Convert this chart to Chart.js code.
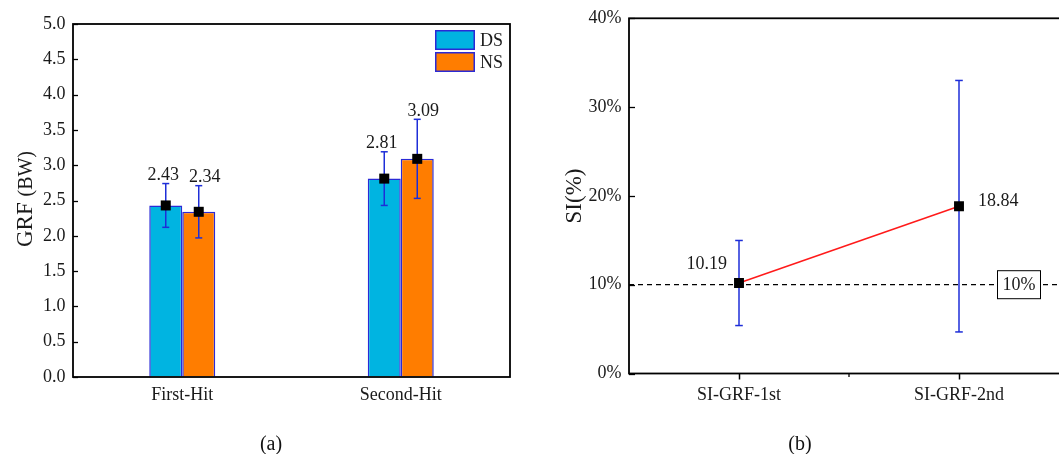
<!DOCTYPE html>
<html>
<head>
<meta charset="utf-8">
<script src="https://cdn.jsdelivr.net/npm/chart.js@4/dist/chart.umd.min.js"></script>
<style>
  html, body { margin: 0; padding: 0; background: #fff; overflow: hidden; }
  #wrap { position: relative; width: 1059px; height: 454px; overflow: hidden; }
  #left { position: absolute; left: 0; top: 0; }
  #right { position: absolute; left: 530px; top: 0; }
  .cap { position: absolute; top: 443px; transform: translate(-50%, -50%);
         font-family: 'Liberation Serif', 'Times New Roman', serif; font-size: 20px; color: #111; }
</style>
</head>
<body>
<div id="wrap">
  <canvas id="left" width="530" height="454"></canvas>
  <canvas id="right" width="550" height="454"></canvas>
  <div class="cap" style="left:271px">(a)</div>
  <div class="cap" style="left:800px">(b)</div>
</div>
<script>
// ---- GRF by hit (mean ± SD, body weights) ----
const hitCategories = ['First-Hit', 'Second-Hit'];
const dsMean = [2.43, 2.81];
const dsErr  = [0.31, 0.38];
const nsMean = [2.34, 3.09];
const nsErr  = [0.37, 0.56];

// ---- symmetry index (%) ----
const siCategories = ['SI-GRF-1st', 'SI-GRF-2nd'];
const siMean = [10.19, 18.84];
const siErr  = [4.79, 14.16];
const siThreshold = 10;

const SERIF = "'Liberation Serif', 'Times New Roman', serif";
const ERR_BLUE = '#1e2ed8';
const TEXT = '#1a1a1a';
const FRAME_W = 1.8;

function line(ctx, x1, y1, x2, y2) {
  ctx.beginPath(); ctx.moveTo(x1, y1); ctx.lineTo(x2, y2); ctx.stroke();
}

function errorBar(ctx, x, yTop, yBot, cap) {
  ctx.save();
  ctx.strokeStyle = ERR_BLUE; ctx.lineWidth = 1.5;
  line(ctx, x, yTop, x, yBot);
  line(ctx, x - cap, yTop, x + cap, yTop);
  line(ctx, x - cap, yBot, x + cap, yBot);
  ctx.restore();
}

function rotatedTitle(ctx, x, y, parts) {
  ctx.save();
  ctx.translate(x, y);
  ctx.rotate(-Math.PI / 2);
  ctx.fillStyle = TEXT;
  ctx.textBaseline = 'alphabetic';
  ctx.textAlign = 'left';
  let total = 0;
  const widths = parts.map(p => { ctx.font = p.size + 'px ' + SERIF; const w = ctx.measureText(p.text).width; total += w; return w; });
  let cx = -total / 2;
  parts.forEach((p, i) => { ctx.font = p.size + 'px ' + SERIF; ctx.fillText(p.text, cx, 0); cx += widths[i]; });
  ctx.restore();
}

// horizontal nudge of the value labels, per series
const barLabelShift = [-2.5, 6];

// Frame, inward ticks, error bars, mean markers, value labels and legend for the bar panel
const grfDecor = {
  id: 'grfDecor',
  afterDatasetsDraw(chart) {
    const { ctx, chartArea: a, scales: { y } } = chart;
    ctx.save();
    chart.data.datasets.forEach((ds, i) => {
      const meta = chart.getDatasetMeta(i);
      meta.data.forEach((bar, j) => {
        const m = ds.data[j], e = ds.errors[j];
        const yt = y.getPixelForValue(m + e), yb = y.getPixelForValue(m - e), ym = y.getPixelForValue(m);
        errorBar(ctx, bar.x, yt, yb, 3.5);
        ctx.fillStyle = '#000';
        ctx.fillRect(bar.x - 5, ym - 5, 10, 10);
        ctx.font = '18px ' + SERIF;
        ctx.fillStyle = TEXT;
        ctx.textAlign = 'center';
        ctx.textBaseline = 'alphabetic';
        ctx.fillText(m.toFixed(2), bar.x + barLabelShift[i], yt - 3.5);
      });
    });

    ctx.strokeStyle = '#000'; ctx.lineWidth = FRAME_W;
    ctx.strokeRect(a.left, a.top, a.right - a.left, a.bottom - a.top);
    ctx.lineWidth = 1.3;
    y.ticks.forEach(t => {
      const py = Math.round(y.getPixelForValue(t.value)) + 0.5;
      line(ctx, a.left, py, a.left + 5, py);
    });

    // legend
    chart.data.datasets.forEach((ds, i) => {
      const sx = a.right - 75, sy = a.top + 6 + i * 22;
      ctx.fillStyle = ds.backgroundColor;
      ctx.fillRect(sx, sy, 40, 20);
      ctx.strokeStyle = ds.borderColor; ctx.lineWidth = 1.5;
      ctx.strokeRect(sx + 0.75, sy + 0.75, 38.5, 18.5);
      ctx.fillStyle = TEXT;
      ctx.font = '18px ' + SERIF;
      ctx.textAlign = 'left'; ctx.textBaseline = 'middle';
      ctx.fillText(ds.label, sx + 45, sy + 11);
    });
    ctx.restore();
  },
  afterDraw(chart) {
    rotatedTitle(chart.ctx, 32, 199, [{ text: 'GRF ', size: 23 }, { text: '(BW)', size: 20 }]);
  }
};

new Chart(document.getElementById('left'), {
  type: 'bar',
  data: {
    labels: hitCategories,
    datasets: [
      { label: 'DS', data: dsMean, errors: dsErr, backgroundColor: '#00b4e1', borderColor: '#2a2ad6', borderWidth: 1.5 },
      { label: 'NS', data: nsMean, errors: nsErr, backgroundColor: '#ff7d00', borderColor: '#2a2ad6', borderWidth: 1.5 }
    ]
  },
  options: {
    responsive: false,
    animation: false,
    layout: { padding: { left: 0, top: 24, right: 20, bottom: 0 } },
    plugins: { legend: { display: false }, tooltip: { enabled: false } },
    datasets: { bar: { categoryPercentage: 0.302, barPercentage: 1.0 } },
    scales: {
      x: {
        grid: { drawOnChartArea: false, drawTicks: false },
        border: { display: false },
        ticks: { color: TEXT, font: { family: SERIF, size: 18 }, padding: 7, maxRotation: 0 },
        afterFit: s => { s.height = 77; }
      },
      y: {
        min: 0, max: 5,
        grid: { drawOnChartArea: false, drawTicks: false },
        border: { display: false },
        ticks: { stepSize: 0.5, color: TEXT, font: { family: SERIF, size: 18 }, padding: 7.5,
                 callback: v => Number(v).toFixed(1) },
        afterFit: s => { s.width = 73; }
      }
    }
  },
  plugins: [grfDecor]
});

// Threshold line, error bars, labels and frame for the symmetry-index panel
const labelPlacement = [
  { align: 'right', dx: -12, dy: -14 },
  { align: 'left', dx: 19, dy: 0 }
];

const siDecor = {
  id: 'siDecor',
  beforeDatasetsDraw(chart) {
    const { ctx, chartArea: a, scales: { x, y } } = chart;
    ctx.save();
    const ty = y.getPixelForValue(siThreshold);
    ctx.strokeStyle = '#000'; ctx.lineWidth = 1.2; ctx.setLineDash([5, 4]);
    line(ctx, a.left, ty, a.right, ty);
    ctx.setLineDash([]);
    siMean.forEach((m, i) => {
      const px = x.getPixelForValue(i + 1);
      errorBar(ctx, px, y.getPixelForValue(m + siErr[i]), y.getPixelForValue(m - siErr[i]), 3.8);
    });
    ctx.restore();
  },
  afterDatasetsDraw(chart) {
    const { ctx, chartArea: a, scales: { x, y } } = chart;
    ctx.save();
    ctx.font = '18px ' + SERIF;
    ctx.fillStyle = TEXT;
    ctx.textBaseline = 'alphabetic';
    siMean.forEach((m, i) => {
      const px = x.getPixelForValue(i + 1), py = y.getPixelForValue(m);
      const p = labelPlacement[i];
      ctx.textAlign = p.align;
      ctx.fillText(m.toFixed(2), px + p.dx, py + p.dy);
    });

    // threshold tag
    const ty = y.getPixelForValue(siThreshold);
    const bx = a.right - 50;
    ctx.fillStyle = '#fff';
    ctx.fillRect(bx - 21.5, ty - 14, 43, 28);
    ctx.strokeStyle = '#000'; ctx.lineWidth = 1;
    ctx.strokeRect(bx - 21.5, ty - 14, 43, 28);
    ctx.fillStyle = TEXT;
    ctx.textAlign = 'center'; ctx.textBaseline = 'middle';
    ctx.fillText(siThreshold + '%', bx, ty + 1);

    // frame and ticks
    ctx.strokeStyle = '#000'; ctx.lineWidth = FRAME_W;
    ctx.strokeRect(a.left, a.top, a.right - a.left, a.bottom - a.top);
    ctx.lineWidth = 1.3;
    y.ticks.forEach(t => {
      const py = Math.round(y.getPixelForValue(t.value)) + 0.5;
      line(ctx, a.left, py, a.left + 6, py);
    });
    const mx = x.getPixelForValue(1.5);
    line(ctx, mx, a.bottom, mx, a.bottom + 3.5);
    ctx.restore();
  },
  afterDraw(chart) {
    rotatedTitle(chart.ctx, 51, 196, [{ text: 'SI(%)', size: 23 }]);
  }
};

new Chart(document.getElementById('right'), {
  type: 'line',
  data: {
    datasets: [{
      label: 'SI',
      data: siMean.map((v, i) => ({ x: i + 1, y: v })),
      borderColor: '#ff1a1a',
      borderWidth: 1.5,
      pointStyle: 'rect',
      pointRadius: 7,
      pointBackgroundColor: '#000',
      pointBorderColor: '#000',
      pointBorderWidth: 0
    }]
  },
  options: {
    responsive: false,
    animation: false,
    layout: { padding: { left: 0, top: 18, right: 11, bottom: 0 } },
    plugins: { legend: { display: false }, tooltip: { enabled: false } },
    scales: {
      x: {
        type: 'linear', min: 0.5, max: 2.5,
        grid: {
          drawOnChartArea: false, drawTicks: true, tickLength: 6, tickWidth: 1.5,
          tickColor: c => (c.tick && (c.tick.value === 1 || c.tick.value === 2)) ? '#000' : 'rgba(0,0,0,0)'
        },
        border: { display: false },
        ticks: {
          stepSize: 0.5, autoSkip: false, maxRotation: 0, padding: 5,
          color: TEXT, font: { family: SERIF, size: 18 },
          callback: v => Number.isInteger(v) && siCategories[v - 1] ? siCategories[v - 1] : ''
        },
        afterFit: s => { s.height = 80.5; }
      },
      y: {
        min: 0, max: 40,
        grid: { drawOnChartArea: false, drawTicks: false },
        border: { display: false },
        ticks: { stepSize: 10, color: TEXT, font: { family: SERIF, size: 18 }, padding: 7.5,
                 callback: v => v + '%' },
        afterFit: s => { s.width = 99; }
      }
    }
  },
  plugins: [siDecor]
});
</script>
</body>
</html>
